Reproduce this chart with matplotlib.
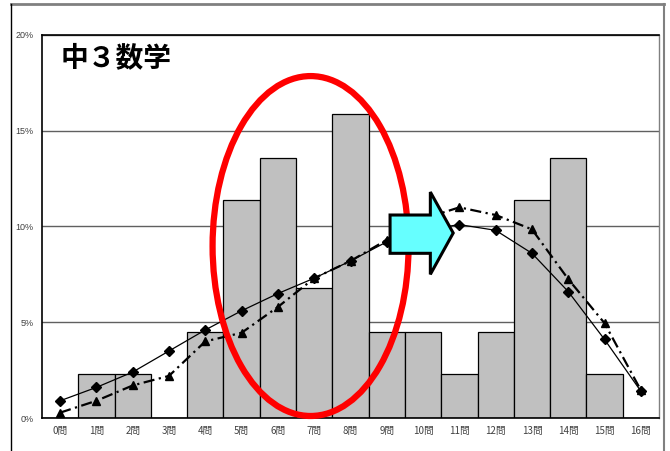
import numpy as np
import matplotlib.pyplot as plt
from matplotlib.patches import Ellipse, Polygon
from matplotlib.lines import Line2D

plt.rcParams['font.family'] = ['Noto Sans CJK JP', 'DejaVu Sans']

# data (percent)
labels = [f"{i}問" for i in range(17)]
bars = [0, 2.3, 2.3, 0, 4.5, 11.4, 13.6, 6.8, 15.9, 4.5, 4.5, 2.3, 4.5, 11.4, 13.6, 2.3, 0]
line_diamond = [0.9, 1.6, 2.4, 3.5, 4.6, 5.6, 6.5, 7.3, 8.2, 9.2, 9.8, 10.1, 9.8, 8.6, 6.6, 4.1, 1.4]
line_triangle = [0.28, 0.9, 1.7, 2.2, 4.0, 4.45, 5.8, 7.3, 8.2, 9.3, 10.4, 11.0, 10.6, 9.85, 7.25, 4.95, 1.45]
yticks = [0, 5, 10, 15, 20]
title = "中３数学"

W, H = 670, 451
fig = plt.figure(figsize=(W / 100, H / 100), dpi=100)
ax = fig.add_axes([42 / W, 33 / H, 617 / W, 383 / H])

x = np.arange(len(labels))
ax.bar(x, bars, width=1.0, color='#c0c0c0', edgecolor='black', linewidth=0.9, zorder=2)
ax.plot(x, line_diamond, color='black', lw=0.9, marker='D', markersize=5, zorder=4)
ax.plot(x, line_triangle, color='black', lw=1.6, ls=(0, (5, 2, 1, 2)), marker='^',
        markersize=5.5, zorder=4)

ax.set_xlim(-0.5, 16.5)
ax.set_ylim(0, 20)
ax.set_yticks(yticks)
ax.set_yticklabels([f"{v}%" for v in yticks], fontsize=6.5, color='#404040', family='Liberation Sans')
ax.set_xticks(x)
ax.set_xticklabels(labels, fontsize=7, color='#404040')
ax.tick_params(length=0, pad=6)
ax.yaxis.grid(True, color='#606060', lw=1.0, zorder=1)
ax.set_axisbelow(True)
for side in ['top', 'left', 'bottom']:
    ax.spines[side].set_color('black')
    ax.spines[side].set_linewidth(1.2)
ax.spines['right'].set_color('#808080')
ax.spines['right'].set_linewidth(1.0)

ax.text(0.03, 0.975, title, transform=ax.transAxes, ha='left', va='top',
        fontsize=20, fontweight='bold')

# red ellipse
ax.add_patch(Ellipse((6.9, 8.98), 5.4, 17.75, fill=False, edgecolor='#ff0000',
                     lw=4.5, zorder=6, clip_on=False))

# cyan arrow
arrow_pts = [(9.09, 10.6), (10.2, 10.6), (10.2, 11.8), (10.83, 9.66),
             (10.2, 7.5), (10.2, 8.6), (9.09, 8.6)]
ax.add_patch(Polygon(arrow_pts, closed=True, facecolor='#66ffff', edgecolor='black',
                     lw=2.2, zorder=7))

# outer frame
fig.add_artist(Line2D([11 / W, 664 / W], [1 - 4 / H, 1 - 4 / H], color='#808080', lw=2))
fig.add_artist(Line2D([11 / W, 11 / W], [0, 1 - 4 / H], color='black', lw=1))
fig.add_artist(Line2D([664 / W, 664 / W], [0, 1 - 4 / H], color='#808080', lw=1.5))

fig.savefig('out.png', dpi=100)
